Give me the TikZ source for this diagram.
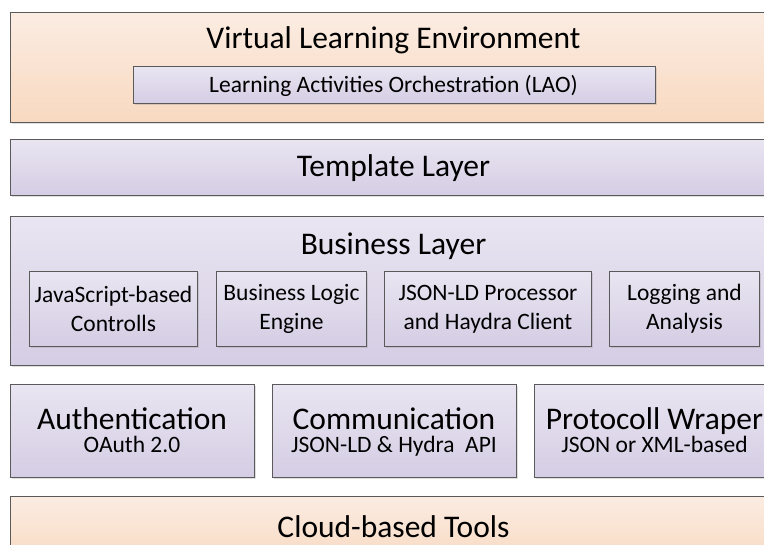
\documentclass[tikz,border=0pt]{standalone}
\usepackage{fontspec}
\setmainfont{Carlito}
\usetikzlibrary{shadows}
\definecolor{otop}{RGB}{251,236,226}
\definecolor{obot}{RGB}{248,217,192}
\definecolor{ptop}{RGB}{233,229,241}
\definecolor{pbot}{RGB}{213,205,228}
\definecolor{edge}{RGB}{90,90,90}
\tikzset{
  base box/.style={draw=edge, line width=1pt, inner sep=0pt, anchor=north west,
    drop shadow={shadow xshift=1.5pt, shadow yshift=-1.5pt, opacity=0.25, fill=gray}},
  obox/.style={base box, top color=otop, bottom color=obot},
  pbox/.style={base box, top color=ptop, bottom color=pbot},
  bigtext/.style={anchor=base, inner sep=0pt, font=\fontsize{31.5}{36}\selectfont},
  smalltext/.style={anchor=base, inner sep=0pt, font=\fontsize{23.5}{28}\selectfont},
  inner/.style={pbox, minimum height=75pt, align=center, font=\fontsize{23.5}{29}\selectfont}
}
\begin{document}
\begin{tikzpicture}[x=1pt,y=-1pt]
\useasboundingbox (0,0) rectangle (764,545);
\clip (0,0) rectangle (764,545);
% Virtual Learning Environment
\node[obox, minimum width=767pt, minimum height=110pt] (vle) at (10,12) {};
\node[bigtext] (vlet) at (393.5,48.5) {Virtual Learning Environment};
\node[pbox, minimum width=522pt, minimum height=37pt] (lao) at (133,66) {};
\node[smalltext] (laot) at (393.5,93) {Learning Activities Orchestration (LAO)};
% Template layer
\node[pbox, minimum width=767pt, minimum height=56pt] (tpl) at (10,139) {};
\node[bigtext] (tplt) at (393.5,176.5) {Template Layer};
% Business layer
\node[pbox, minimum width=767pt, minimum height=149pt] (bus) at (10,216) {};
\node[bigtext] (bust) at (393.5,254.5) {Business Layer};
\node[inner, minimum width=168pt] (js) at (29,271) {JavaScript-based\\Controlls};
\node[inner, minimum width=150pt] (ble) at (216,271) {Business Logic\\Engine};
\node[inner, minimum width=207pt] (jp) at (384,271) {JSON-LD Processor\\and Haydra Client};
\node[inner, minimum width=150pt] (log) at (609,271) {Logging and\\Analysis};
% Bottom row
\node[pbox, minimum width=244pt, minimum height=93pt] (auth) at (10,384) {};
\node[bigtext] (autht) at (132,429.5) {Authentication};
\node[smalltext] (auths) at (132,453) {OAuth 2.0};
\node[pbox, minimum width=244pt, minimum height=93pt] (comm) at (272,384) {};
\node[bigtext] (commt) at (394,429.5) {Communication};
\node[smalltext] (comms) at (394,453) {JSON-LD \& Hydra\ \ API};
\node[pbox, minimum width=241pt, minimum height=93pt] (prot) at (534,384) {};
\node[bigtext] (prott) at (654.5,429.5) {Protocoll Wraper};
\node[smalltext] (prots) at (654.5,453) {JSON or XML-based};
% Cloud
\node[obox, minimum width=767pt, minimum height=70pt] (cloud) at (10,496) {};
\node[bigtext] (cloudt) at (393.5,537) {Cloud-based Tools};
\end{tikzpicture}
\end{document}
